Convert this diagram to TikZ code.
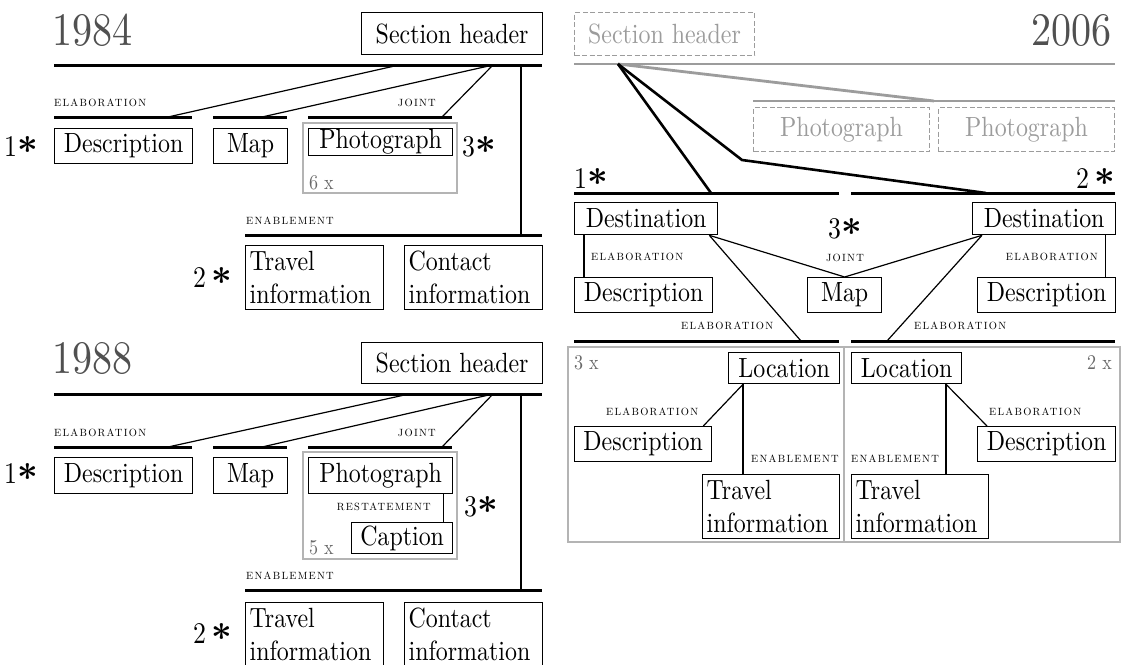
\documentclass[tikz,border=0pt]{standalone}
\usepackage{fontspec}
\setmainfont{lmroman10-regular}[Extension=.otf, FakeStretch=0.86]
\newfontfamily\lblfont{lmroman10-regular}[Extension=.otf, LetterSpace=12]
\newfontfamily\astfont{lmroman10-bold}[Extension=.otf]
\usetikzlibrary{calc}
\definecolor{yeargray}{HTML}{505050}
\definecolor{cntgray}{HTML}{6A6A6A}
\definecolor{panelgray}{HTML}{B4B4B4}
\definecolor{dashgray}{HTML}{9C9C9C}
\newcommand{\myast}{\raisebox{-7pt}[20pt][0pt]{\astfont\fontsize{36}{36}\selectfont *}}
\tikzset{
  bx/.style={draw, line width=1.3pt, inner sep=0pt, anchor=north west, font=\fontsize{27.8}{33}\selectfont},
  bxtwo/.style={bx, align=left, text width=130pt, inner xsep=4pt, inner ysep=0pt, minimum height=64pt},
  dbox/.style={bx, draw=dashgray, text=dashgray, dash pattern=on 5pt off 2.5pt, line width=1pt},
  lbl/.style={inner sep=0pt, font=\lblfont\fontsize{10.5}{12}\selectfont},
  yearlbl/.style={inner sep=0pt, text=yeargray, font=\fontsize{46.6}{50}\selectfont},
  big/.style={inner sep=0pt, font=\fontsize{30}{30}\selectfont},
  cnt/.style={inner sep=0pt, text=cntgray, font=\fontsize{21}{22}\selectfont},
  tl/.style={line width=3pt},
  conn/.style={line width=1.2pt},
  thk/.style={line width=2.6pt},
  glin/.style={line width=2.8pt, draw=dashgray},
  gpanel/.style={draw=panelgray, line width=1.4pt}
}
\begin{document}
\begin{tikzpicture}[x=1pt,y=-1pt]
\useasboundingbox[fill=white] (0,0) rectangle (1126,664);

%%%%%%%%%%%%%%%% 1984
\node[yearlbl, anchor=base west] (y84) at (52,45) {1984};
\node[bx, minimum width=181pt, minimum height=42pt] (sh84) at (361,12) {Section header};
\draw[tl] (54,65) -- (542,65);
\coordinate (m84a) at (399,65);
\coordinate (m84b) at (493,65);
\coordinate (m84c) at (521,65);
\node[lbl, anchor=west] (el84) at (54,103) {ELABORATION};
\node[lbl, anchor=east] (jo84) at (436,103) {JOINT};
\draw[tl] (54,117) -- (192,117);
\draw[tl] (213,117) -- (287,117);
\draw[tl] (308,117) -- (452,117);
\coordinate (g84a) at (168,117);
\coordinate (g84b) at (262,117);
\coordinate (g84c) at (442,117);
\draw[conn] (m84a) -- (g84a);
\draw[conn] (m84b) -- (g84b);
\draw[conn] (m84b) -- (g84c);
\draw[gpanel] (303,123) rectangle (457,193);
\node[bx, minimum width=138pt, minimum height=35pt] (d84) at (54,128) {Description};
\node[bx, minimum width=74pt, minimum height=35pt] (mp84) at (213,128) {Map};
\node[bx, minimum width=144pt, minimum height=27pt] (p84) at (308,128) {Photograph};
\node[cnt, anchor=base west] (n84) at (309,189) {6 x};
\node[big, anchor=base west] (s84a) at (4,156) {1\myast};
\node[big, anchor=base west] (s84c) at (462,156) {3\myast};
\coordinate (e84v) at (521,235);
\draw[conn] (m84c) -- (e84v);
\node[lbl, anchor=west] (en84) at (246,221) {ENABLEMENT};
\draw[tl] (245,235) -- (542,235);
\node[bxtwo] (t84) at (245,245) {Travel\\information};
\node[bxtwo] (c84) at (404,245) {Contact\\information};
\node[big, anchor=base west] (s84b) at (193,287) {2\,\myast};

%%%%%%%%%%%%%%%% 1988
\node[yearlbl, anchor=base west] (y88) at (52,373) {1988};
\node[bx, minimum width=181pt, minimum height=41pt] (sh88) at (361,342) {Section header};
\draw[tl] (54,394) -- (542,394);
\coordinate (m88a) at (409,394);
\coordinate (m88b) at (493,394);
\coordinate (m88c) at (521,394);
\node[lbl, anchor=west] (el88) at (54,433) {ELABORATION};
\node[lbl, anchor=east] (jo88) at (436,433) {JOINT};
\draw[tl] (54,447) -- (192,447);
\draw[tl] (213,447) -- (287,447);
\draw[tl] (308,447) -- (452,447);
\coordinate (g88a) at (168,447);
\coordinate (g88b) at (262,447);
\coordinate (g88c) at (442,447);
\draw[conn] (m88a) -- (g88a);
\draw[conn] (m88b) -- (g88b);
\draw[conn] (m88b) -- (g88c);
\draw[gpanel] (303,452) rectangle (457,559);
\node[bx, minimum width=138pt, minimum height=36pt] (d88) at (54,457) {Description};
\node[bx, minimum width=74pt, minimum height=36pt] (mp88) at (213,457) {Map};
\node[bx, minimum width=144pt, minimum height=36pt] (p88) at (308,457) {Photograph};
\node[bx, minimum width=101pt, minimum height=31pt] (cp88) at (351,522) {Caption};
\draw[conn] ($(p88.south east)+(-10,0)$) -- ($(cp88.north east)+(-10,0)$);
\node[lbl, anchor=east] (rs88) at (431,507) {RESTATEMENT};
\node[cnt, anchor=base west] (n88) at (309,554) {5 x};
\node[big, anchor=base west] (s88c) at (464,516) {3\myast};
\node[big, anchor=base west] (s88a) at (4,483) {1\myast};
\coordinate (e88v) at (521,590);
\draw[conn] (m88c) -- (e88v);
\node[lbl, anchor=west] (en88) at (246,576) {ENABLEMENT};
\draw[tl] (245,590) -- (542,590);
\node[bxtwo] (t88) at (245,602) {Travel\\information};
\node[bxtwo] (c88) at (404,602) {Contact\\information};
\node[big, anchor=base west] (s88b) at (193,643) {2\,\myast};

%%%%%%%%%%%%%%%% 2006
\node[dbox, minimum width=180pt, minimum height=43pt] (sh06) at (574,12) {Section header};
\node[yearlbl, anchor=base east] (y06) at (1112,45) {2006};
\draw[glin] (574,64) -- (1115,64);
\coordinate (r06) at (618,64);
\coordinate (q06) at (934,101);
\draw[glin] (r06) -- (q06);
\draw[glin] (753,101) -- (1115,101);
\node[dbox, minimum width=176pt, minimum height=44pt] (ph1) at (753,107) {Photograph};
\node[dbox, minimum width=176pt, minimum height=44pt] (ph2) at (938,107) {Photograph};
\coordinate (a06) at (711,193);
\coordinate (k06) at (742,160);
\coordinate (b06) at (986,193);
\draw[thk] (r06) -- (a06);
\draw[thk, line join=miter] (r06) -- (k06) -- (b06);
\node[big, anchor=base west] (s06a) at (574,188) {1\myast};
\node[big, anchor=base east] (s06b) at (1115,188) {2\,\myast};
\draw[tl] (574,193) -- (839,193);
\draw[tl] (851,193) -- (1115,193);
\node[bx, minimum width=143pt, minimum height=32pt] (ds1) at (574,202) {Destination};
\node[bx, minimum width=143pt, minimum height=32pt] (ds2) at (972,202) {Destination};
\node[big, anchor=base] (s06c) at (845,238) {3\myast};
\node[lbl] (jo06) at (845,258) {JOINT};
\node[bx, minimum width=74pt, minimum height=35pt] (mp06) at (807,277) {Map};
\draw[conn] ($(ds1.south east)+(-9,0)$) -- (mp06.north);
\draw[conn] (mp06.north) -- ($(ds2.south west)+(10,0)$);
\node[bx, minimum width=138pt, minimum height=35pt] (de1) at (574,277) {Description};
\node[bx, minimum width=138pt, minimum height=35pt] (de2) at (977,277) {Description};
\draw[conn] ($(ds1.south west)+(10,0)$) -- ($(de1.north west)+(10,0)$);
\draw[conn] ($(ds2.south east)+(-11,0)$) -- ($(de2.north east)+(-11,0)$);
\node[lbl, anchor=west] (el06a) at (591,257) {ELABORATION};
\node[lbl, anchor=east] (el06b) at (1098,257) {ELABORATION};
\coordinate (u06a) at (801,341);
\coordinate (u06b) at (887,341);
\draw[conn] ($(ds1.south east)+(-9,0)$) -- (u06a);
\draw[conn] ($(ds2.south west)+(10,0)$) -- (u06b);
\node[lbl, anchor=west] (el06c) at (681,326) {ELABORATION};
\node[lbl, anchor=west] (el06d) at (914,326) {ELABORATION};
\draw[tl] (574,341) -- (839,341);
\draw[tl] (851,341) -- (1115,341);
\draw[gpanel] (568,347) rectangle (844,542);
\draw[gpanel] (844,347) rectangle (1120,542);
\node[cnt, anchor=base west] (n06a) at (574,369) {3 x};
\node[cnt, anchor=base east] (n06b) at (1112,369) {2 x};
% left sub-panel
\node[bx, minimum width=111pt, minimum height=31pt] (lc1) at (728,352) {Location};
\node[bx, minimum width=137pt, minimum height=35pt] (dl1) at (574,426) {Description};
\node[bxtwo, text width=129pt] (tr1) at (702,474) {Travel\\information};
\draw[conn] ($(lc1.south west)+(15,0)$) -- ($(dl1.north east)+(-9,0)$);
\draw[conn] ($(lc1.south west)+(15,0)$) -- ($(tr1.north west)+(41,0)$);
\node[lbl, anchor=west] (el06e) at (606,412) {ELABORATION};
\node[lbl, anchor=east] (en06a) at (839,459) {ENABLEMENT};
% right sub-panel
\node[bx, minimum width=110pt, minimum height=31pt] (lc2) at (851,352) {Location};
\node[bx, minimum width=138pt, minimum height=35pt] (dl2) at (977,426) {Description};
\node[bxtwo, text width=129pt] (tr2) at (851,474) {Travel\\information};
\draw[conn] ($(lc2.south west)+(95,0)$) -- ($(dl2.north west)+(10,0)$);
\draw[conn] ($(lc2.south west)+(95,0)$) -- ($(tr2.north west)+(95,0)$);
\node[lbl, anchor=west] (el06f) at (989,412) {ELABORATION};
\node[lbl, anchor=west] (en06b) at (851,459) {ENABLEMENT};
\end{tikzpicture}
\end{document}
